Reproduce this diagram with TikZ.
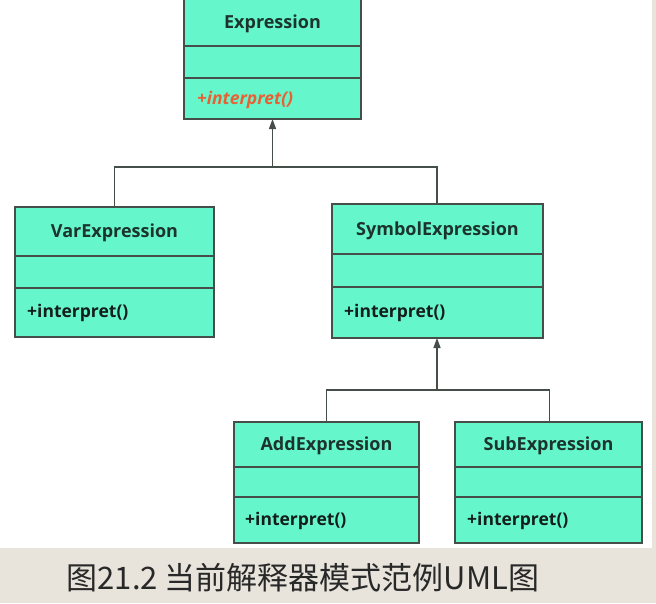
\documentclass[tikz,border=0pt]{standalone}
\usepackage{fontspec}
\setmainfont{Open Sans}
\newfontfamily\cjk{Noto Sans CJK SC}
\usetikzlibrary{arrows.meta}
\definecolor{mint}{RGB}{102,246,204}
\definecolor{edge}{RGB}{70,78,74}
\definecolor{titletxt}{RGB}{28,52,44}
\definecolor{methtxt}{RGB}{20,30,26}
\definecolor{abstxt}{RGB}{232,96,52}
\definecolor{paper}{RGB}{232,228,220}
\definecolor{captxt}{RGB}{40,40,40}
\tikzset{
  classbox/.style={draw=edge, fill=mint, line width=1.3pt},
  divider/.style={draw=edge, line width=1.3pt},
  ctitle/.style={font=\bfseries\fontsize{18}{21}\selectfont, text=titletxt, inner sep=0pt},
  cmeth/.style={font=\bfseries\fontsize{17.5}{21}\selectfont, text=methtxt, anchor=west, inner sep=0pt},
  link/.style={draw=edge, line width=1.3pt},
  gen/.style={draw=edge, line width=1.3pt, -{Triangle[width=7pt,length=10pt]}},
}
\begin{document}
\begin{tikzpicture}[x=1pt,y=-1pt]
\useasboundingbox (0,0) rectangle (656,603);
% background
\fill[paper] (0,548) rectangle (656,603);
\fill[paper] (652,0) rectangle (656,603);
\fill[white] (0,0) rectangle (652,548);

% Expression
\draw[classbox] (184,-3) rectangle (361,119);
\draw[divider] (184,46) -- (361,46);
\draw[divider] (184,78) -- (361,78);
\node[ctitle] (expT) at (272.5,23.5) {Expression};
\node[cmeth, text=abstxt, font=\bfseries\itshape\fontsize{17.5}{21}\selectfont] (expM) at (197,100) {+interpret()};
\coordinate (expB) at (272.5,119);

% VarExpression
\draw[classbox] (15,207) rectangle (214,337);
\draw[divider] (15,256) -- (214,256);
\draw[divider] (15,288) -- (214,288);
\node[ctitle] (varT) at (114.5,232.5) {VarExpression};
\node[cmeth] (varM) at (27,313) {+interpret()};
\coordinate (varTop) at (114.5,207);

% SymbolExpression
\draw[classbox] (332,204) rectangle (543,338);
\draw[divider] (332,254) -- (543,254);
\draw[divider] (332,287) -- (543,287);
\node[ctitle] (symT) at (437.5,230.5) {SymbolExpression};
\node[cmeth] (symM) at (344,313) {+interpret()};
\coordinate (symTop) at (437,204);
\coordinate (symB) at (437,338);

% AddExpression
\draw[classbox] (234,422) rectangle (419,543);
\draw[divider] (234,467) -- (419,467);
\draw[divider] (234,497) -- (419,497);
\node[ctitle] (addT) at (326.5,445.5) {AddExpression};
\node[cmeth] (addM) at (245,521) {+interpret()};
\coordinate (addTop) at (326.5,422);

% SubExpression
\draw[classbox] (455,422) rectangle (642,543);
\draw[divider] (455,467) -- (642,467);
\draw[divider] (455,497) -- (642,497);
\node[ctitle] (subT) at (548.5,445.5) {SubExpression};
\node[cmeth] (subM) at (467,521) {+interpret()};
\coordinate (subTop) at (549.5,422);

% generalization: Expression
\coordinate (j1) at (272.5,167);
\draw[link] (varTop) |- (j1) -| (symTop);
\draw[gen] (j1) -- (expB);

% generalization: SymbolExpression
\coordinate (j2) at (437,390);
\draw[link] (addTop) |- (j2) -| (subTop);
\draw[gen] (j2) -- (symB);

% caption
\node[font=\cjk\fontsize{31}{35}\selectfont, text=captxt, inner sep=0pt] (cap) at (303,578) {图21.2 当前解释器模式范例UML图};
\end{tikzpicture}
\end{document}
